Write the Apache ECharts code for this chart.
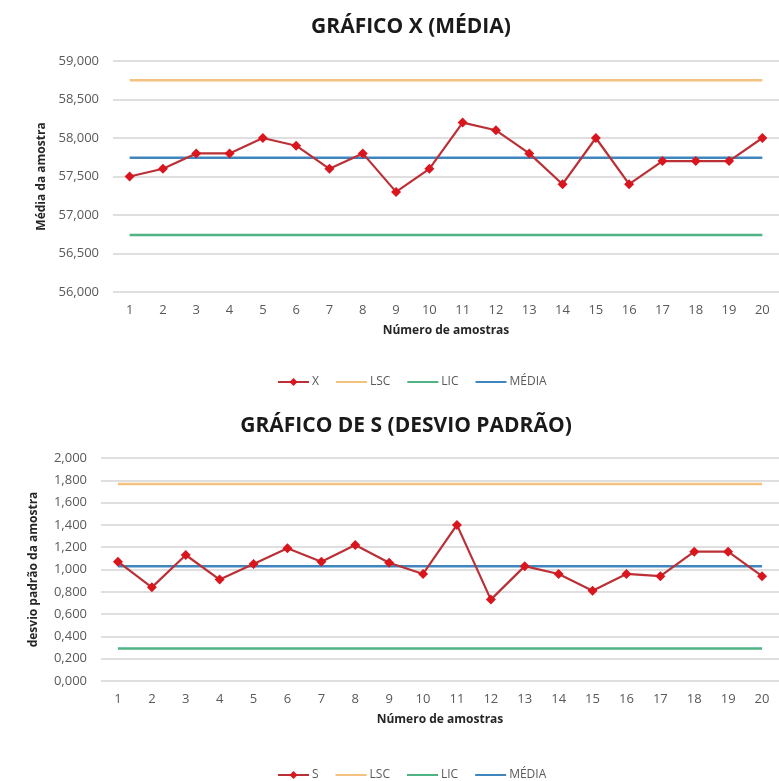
<!DOCTYPE html>
<html>
<head>
<meta charset="utf-8">
<script src="https://cdn.jsdelivr.net/npm/echarts@6/dist/echarts.min.js"></script>
<style>
  html, body { margin: 0; padding: 0; background: #ffffff; }
  #chart { width: 779px; height: 781px; }
</style>
</head>
<body>
<div id="chart"></div>
<script>
// Sample numbers 1..20
const samples = ['1','2','3','4','5','6','7','8','9','10','11','12','13','14','15','16','17','18','19','20'];

// Sample means (X-bar chart)
const xbar = [57.5, 57.6, 57.8, 57.8, 58.0, 57.9, 57.6, 57.8, 57.3, 57.6,
              58.2, 58.1, 57.8, 57.4, 58.0, 57.4, 57.7, 57.7, 57.7, 58.0];
const xbarLSC = 58.749;
const xbarLIC = 56.741;
const xbarMedia = 57.745;

// Sample standard deviations (S chart)
const sdev = [1.07, 0.84, 1.13, 0.91, 1.05, 1.19, 1.07, 1.22, 1.06, 0.96,
              1.40, 0.73, 1.03, 0.96, 0.81, 0.96, 0.94, 1.16, 1.16, 0.94];
const sLSC = 1.767;
const sLIC = 0.292;
const sMedia = 1.030;

const FONT = '"Open Sans", "Noto Sans", sans-serif';
const C_DATA = '#bb3036';
const C_MARK = '#d9161e';
const C_LSC = '#f2c27e';
const C_LIC = '#4fb386';
const C_MEDIA = '#3f86bf';

const fmt = v => v.toFixed(3).replace('.', ',');
const flat = v => samples.map(() => v);

// Horizontal control limit drawn across all samples (legend shows a plain line)
function limitSeries(name, value, color, axis) {
  return {
    name: name, type: 'line', xAxisIndex: axis, yAxisIndex: axis,
    data: flat(value), symbol: 'none', silent: true,
    lineStyle: { color: color, width: 2.5 },
    itemStyle: { color: 'rgba(0,0,0,0)' },
    z: 2
  };
}
function dataSeries(name, values, axis) {
  return {
    name: name, type: 'line', xAxisIndex: axis, yAxisIndex: axis,
    data: values, symbol: 'diamond', symbolSize: 10,
    lineStyle: { color: C_DATA, width: 2.2 },
    itemStyle: { color: C_MARK },
    z: 5
  };
}
function xAxisCfg(grid) {
  return {
    type: 'category', gridIndex: grid, data: samples, boundaryGap: true,
    axisLine: { show: false }, axisTick: { show: false },
    axisLabel: { color: '#595959', fontFamily: FONT, fontSize: 13, margin: 12 },
    name: 'Número de amostras', nameLocation: 'middle', nameGap: 33,
    nameTextStyle: { color: '#262626', fontFamily: FONT, fontSize: 12, fontWeight: 'bold' }
  };
}
function yAxisCfg(grid, min, max, interval, name, gap) {
  return {
    type: 'value', gridIndex: grid, min: min, max: max, interval: interval,
    axisLine: { show: false }, axisTick: { show: false },
    splitLine: { lineStyle: { color: '#d4d4d4', width: 1.5 } },
    axisLabel: { color: '#595959', fontFamily: FONT, fontSize: 13, margin: 14, formatter: fmt },
    name: name, nameLocation: 'middle', nameRotate: 90, nameGap: gap,
    nameTextStyle: { color: '#262626', fontFamily: FONT, fontSize: 12, fontWeight: 'bold' }
  };
}
function legendCfg(first, top) {
  return {
    data: [first, 'LSC', 'LIC', 'MÉDIA'], left: 272, top: top,
    itemWidth: 31, itemHeight: 10, itemGap: 16,
    textStyle: { fontFamily: FONT, fontSize: 12, color: '#595959', padding: [0, 0, 0, -2] }
  };
}

const chart = echarts.init(document.getElementById('chart'));
chart.setOption({
  animation: false,
  backgroundColor: '#ffffff',
  title: [
    { text: 'GRÁFICO X (MÉDIA)', left: 406, top: 12, textAlign: 'center',
      textStyle: { fontFamily: FONT, fontSize: 21, fontWeight: 'bold', color: '#1a1a1a' } },
    { text: 'GRÁFICO DE S (DESVIO PADRÃO)', left: 401, top: 411, textAlign: 'center',
      textStyle: { fontFamily: FONT, fontSize: 21, fontWeight: 'bold', color: '#1a1a1a' } }
  ],
  legend: [legendCfg('X', 371), legendCfg('S', 764)],
  grid: [
    { left: 113, width: 672, top: 61, height: 231 },
    { left: 101, width: 684, top: 458, height: 223 }
  ],
  xAxis: [xAxisCfg(0), xAxisCfg(1)],
  yAxis: [
    yAxisCfg(0, 56, 59, 0.5, 'Média da amostra', 64),
    yAxisCfg(1, 0, 2, 0.2, 'desvio padrão da amostra', 61)
  ],
  series: [
    dataSeries('X', xbar, 0),
    limitSeries('LSC', xbarLSC, C_LSC, 0),
    limitSeries('LIC', xbarLIC, C_LIC, 0),
    limitSeries('MÉDIA', xbarMedia, C_MEDIA, 0),
    dataSeries('S', sdev, 1),
    limitSeries('LSC', sLSC, C_LSC, 1),
    limitSeries('LIC', sLIC, C_LIC, 1),
    limitSeries('MÉDIA', sMedia, C_MEDIA, 1)
  ]
});
</script>
</body>
</html>
